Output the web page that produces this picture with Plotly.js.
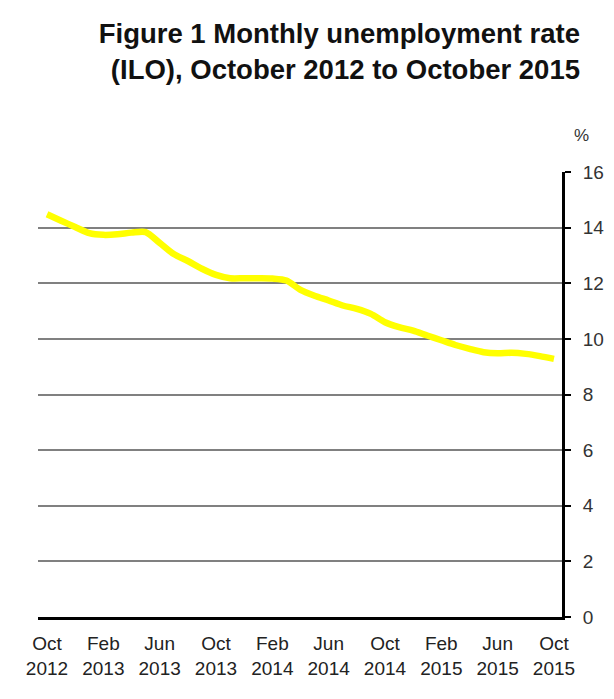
<!DOCTYPE html>
<html>
<head>
<meta charset="utf-8">
<script src="https://cdn.plot.ly/plotly-3.0.1.min.js"></script>
<style>
  html, body { margin: 0; padding: 0; background: #ffffff; }
  #chart { width: 614px; height: 699px; }
</style>
</head>
<body>
<div id="chart"></div>
<script>
// Months from October 2012 to October 2015
var months = [
  "Oct 2012", "Nov 2012", "Dec 2012", "Jan 2013", "Feb 2013", "Mar 2013", "Apr 2013", "May 2013",
  "Jun 2013", "Jul 2013", "Aug 2013", "Sep 2013", "Oct 2013", "Nov 2013", "Dec 2013", "Jan 2014",
  "Feb 2014", "Mar 2014", "Apr 2014", "May 2014", "Jun 2014", "Jul 2014", "Aug 2014", "Sep 2014",
  "Oct 2014", "Nov 2014", "Dec 2014", "Jan 2015", "Feb 2015", "Mar 2015", "Apr 2015", "May 2015",
  "Jun 2015", "Jul 2015", "Aug 2015", "Sep 2015", "Oct 2015"
];

// Monthly unemployment rate (ILO), %
var unemploymentRate = [
  14.48, 14.25, 14.02, 13.80, 13.74, 13.76, 13.82, 13.84,
  13.45, 13.05, 12.80, 12.52, 12.30, 12.18, 12.18, 12.18,
  12.17, 12.10, 11.76, 11.55, 11.38, 11.20, 11.08, 10.90,
  10.60, 10.42, 10.30, 10.12, 9.95, 9.78, 9.64, 9.52,
  9.48, 9.50, 9.46, 9.38, 9.28
];

// Axis tick labels
var xTickMonths = ["Oct 2012", "Feb 2013", "Jun 2013", "Oct 2013", "Feb 2014", "Jun 2014", "Oct 2014", "Feb 2015", "Jun 2015", "Oct 2015"];
var yTickValues = [0, 2, 4, 6, 8, 10, 12, 14, 16];

var xIndex = months.map(function (m, i) { return i; });
var xTickVals = xTickMonths.map(function (m) { return months.indexOf(m); });
var xTickText = xTickMonths.map(function (m) { return m.replace(" ", "<br>"); });

var font = "Liberation Sans, Arial, sans-serif";

var trace = {
  x: xIndex,
  y: unemploymentRate,
  text: months,
  type: "scatter",
  mode: "lines",
  line: { color: "#ffff00", width: 6.5, shape: "spline", smoothing: 0.8 },
  hoverinfo: "text+y"
};

var layout = {
  width: 614,
  height: 699,
  paper_bgcolor: "#ffffff",
  plot_bgcolor: "#ffffff",
  margin: { l: 38, r: 52, t: 172, b: 82, pad: 0 },
  showlegend: false,
  title: {
    text: "Figure 1 Monthly unemployment rate<br>(ILO), October 2012 to October 2015",
    font: { family: font, size: 27.5, color: "#111111", weight: "bold" },
    xref: "container",
    x: 580 / 614,
    xanchor: "right",
    yref: "container",
    y: 1 - 43 / 699,
    yanchor: "top"
  },
  xaxis: {
    type: "linear",
    range: [-0.64, 36.57],
    tickmode: "array",
    tickvals: xTickVals,
    ticktext: xTickText,
    ticks: "",
    ticklabelstandoff: 7,
    showgrid: false,
    zeroline: false,
    showline: true,
    linecolor: "#000000",
    linewidth: 3,
    tickfont: { family: font, size: 19, color: "#222222" },
    fixedrange: true
  },
  yaxis: {
    side: "right",
    range: [0, 16],
    tickmode: "array",
    tickvals: yTickValues,
    ticks: "outside",
    ticklen: 6,
    tickwidth: 2,
    tickcolor: "#000000",
    ticklabelstandoff: 8,
    showline: true,
    linecolor: "#000000",
    linewidth: 3,
    showgrid: true,
    gridcolor: "#808080",
    gridwidth: 2,
    zeroline: false,
    tickfont: { family: font, size: 19, color: "#333333" },
    fixedrange: true
  },
  annotations: [
    {
      text: "%",
      xref: "paper",
      yref: "paper",
      x: (581 - 38) / 524,
      y: (617 - 135) / 445,
      xanchor: "center",
      yanchor: "middle",
      showarrow: false,
      font: { family: font, size: 17, color: "#333333" }
    }
  ]
};

Plotly.newPlot("chart", [trace], layout, { displayModeBar: false, staticPlot: true });
</script>
</body>
</html>
